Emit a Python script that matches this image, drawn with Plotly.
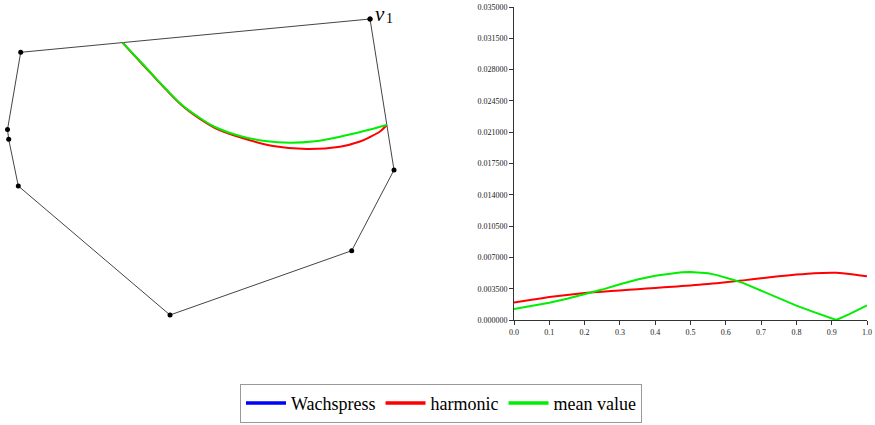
import plotly.graph_objects as go

# ---------------- data ----------------
# polygon vertices (left panel, drawing units; y grows downward)
poly_x = [370, 394, 351.7, 170, 18.3, 8.7, 7.5, 20.7]
poly_y = [19, 170, 250.7, 315, 186, 139.3, 129.5, 52.3]

# level curves inside polygon
harm_cx = [122.5, 145, 165, 182, 200, 215, 240, 273, 307, 340, 360, 370, 380, 386.8]
harm_cy = [42.6, 67, 88.5, 105.5, 119, 128, 137.3, 146, 149, 146.7, 141.5, 137, 131.5, 125]
mean_cx = [122.5, 145, 165, 182, 200, 215, 240, 265, 290, 315, 340, 365, 386.8]
mean_cy = [42.6, 66.5, 88, 105, 118, 127, 136, 141, 142.7, 141.2, 136.7, 130.8, 125]

# right panel: error along the curve
t_vals = [0.0, 0.05, 0.1, 0.15, 0.2, 0.25, 0.3, 0.35, 0.4, 0.45, 0.475, 0.5, 0.525,
          0.55, 0.575, 0.6, 0.625, 0.65, 0.7, 0.75, 0.8, 0.85, 0.9, 0.913, 0.95, 1.0]
harm_err = [0.00195, 0.00226, 0.00256, 0.00280, 0.00301, 0.00317, 0.00331, 0.00344,
            0.00358, 0.00372, 0.00379, 0.00387, 0.00395, 0.00403, 0.00412, 0.00421,
            0.00432, 0.00443, 0.00466, 0.00488, 0.00508, 0.00524, 0.00528, 0.00527,
            0.00515, 0.00489]
mean_err = [0.00124, 0.00155, 0.00192, 0.00238, 0.00288, 0.00340, 0.00400, 0.00452,
            0.00495, 0.00525, 0.00533, 0.00536, 0.00533, 0.00522, 0.00502, 0.00476,
            0.00445, 0.00413, 0.00330, 0.00245, 0.00160, 0.00088, 0.00022, 0.0,
            0.00066, 0.00162]

y_ticks = [0.0, 0.0035, 0.007, 0.0105, 0.014, 0.0175, 0.021, 0.0245, 0.028, 0.0315, 0.035]
x_ticks = [0.0, 0.1, 0.2, 0.3, 0.4, 0.5, 0.6, 0.7, 0.8, 0.9, 1.0]

series_names = ["Wachspress", "harmonic", "mean value"]
series_colors = ["#0000ff", "#ff0000", "#00ee00"]

W, H = 875, 425
SERIF = "Liberation Serif"

fig = go.Figure()

# polygon edges
fig.add_trace(go.Scatter(
    x=poly_x + poly_x[:1], y=poly_y + poly_y[:1], mode="lines+markers",
    line=dict(color="#444444", width=1), marker=dict(color="black", size=5),
    xaxis="x", yaxis="y", showlegend=False, hoverinfo="skip"))

# legend entries
for nm, col in zip(series_names, series_colors):
    fig.add_trace(go.Scatter(x=[None], y=[None], mode="lines", name=nm,
                             line=dict(color=col, width=3.5),
                             xaxis="x2", yaxis="y2"))

# curves on left
fig.add_trace(go.Scatter(x=harm_cx, y=harm_cy, mode="lines",
                         line=dict(color=series_colors[1], width=2, shape="spline"),
                         xaxis="x", yaxis="y", showlegend=False))
fig.add_trace(go.Scatter(x=mean_cx, y=mean_cy, mode="lines",
                         line=dict(color=series_colors[2], width=2, shape="spline"),
                         xaxis="x", yaxis="y", showlegend=False))

# right panel
fig.add_trace(go.Scatter(x=t_vals, y=harm_err, mode="lines",
                         line=dict(color=series_colors[1], width=2, shape="spline", smoothing=0.6),
                         xaxis="x2", yaxis="y2", showlegend=False))
fig.add_trace(go.Scatter(x=t_vals, y=mean_err, mode="lines",
                         line=dict(color=series_colors[2], width=2),
                         xaxis="x2", yaxis="y2", showlegend=False))

# vertex label v1 (v italic + subscript 1)
fig.add_annotation(x=373, y=0, xref="x", yref="y", text="<i>v</i>",
                   showarrow=False, xanchor="left", yanchor="top",
                   font=dict(family=SERIF, size=21, color="black"))
fig.add_annotation(x=384, y=9, xref="x", yref="y", text="1",
                   showarrow=False, xanchor="left", yanchor="top",
                   font=dict(family=SERIF, size=14, color="black"))

tickfont = dict(family=SERIF, size=8, color="#222222")
fig.update_layout(
    width=W, height=H, margin=dict(l=0, r=0, t=0, b=0, autoexpand=False),
    paper_bgcolor="white", plot_bgcolor="white",
    xaxis=dict(domain=[0, 420 / W], range=[0, 420], visible=False),
    yaxis=dict(domain=[(H - 330) / H, 1], range=[330, 0], visible=False),
    xaxis2=dict(domain=[514 / W, 867 / W], range=[0, 1], anchor="y2",
                tickvals=x_ticks, tickformat=".1f", ticks="outside", ticklen=4,
                tickcolor="#333333", showline=True, linecolor="#333333", linewidth=1,
                showgrid=False, zeroline=False, tickfont=tickfont, automargin=False),
    yaxis2=dict(domain=[(H - 320) / H, (H - 7) / H], range=[0, 0.035], anchor="x2",
                tickvals=y_ticks, tickformat=".6f", ticks="outside", ticklen=4,
                tickcolor="#333333", showline=True, linecolor="#333333", linewidth=1,
                showgrid=False, zeroline=False, tickfont=tickfont, automargin=False),
    legend=dict(orientation="h", x=0.504, xanchor="center", y=0.005, yanchor="bottom",
                bordercolor="#999999", borderwidth=1, bgcolor="white",
                font=dict(family=SERIF, size=18, color="black"),
                itemwidth=40, tracegroupgap=0),
    showlegend=True,
)

fig.write_html("out.html")
